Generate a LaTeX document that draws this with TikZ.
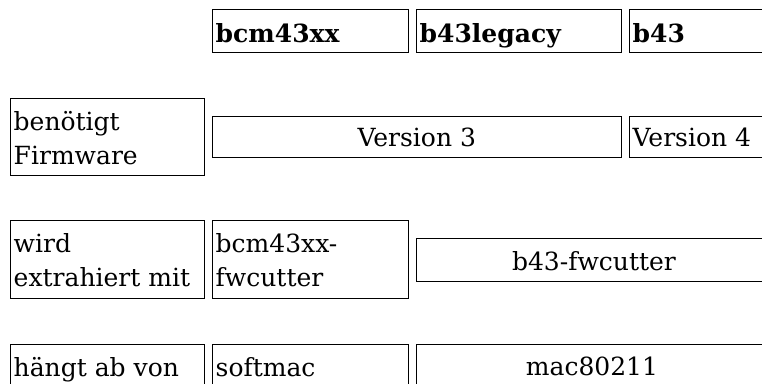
\documentclass[tikz,border=0pt]{standalone}
\usepackage{fontspec}
\setmainfont{DejaVu Serif}
\begin{document}
\begin{tikzpicture}[x=1pt,y=-1pt,
  cell/.style={draw=black, line width=1pt, rectangle, inner sep=0pt, anchor=north west},
  txt/.style={inner sep=0pt, anchor=base west, font=\fontsize{25}{34.3}\selectfont, align=left},
  ctxt/.style={inner sep=0pt, anchor=base, font=\fontsize{25}{34.3}\selectfont},
  htxt/.style={inner sep=0pt, anchor=base west, font=\fontsize{25}{34.3}\selectfont\bfseries}]
\useasboundingbox (0,0) rectangle (762,383);
\clip (0,0) rectangle (762,383);
% header row
\node[cell, minimum width=196pt, minimum height=43pt] (h1) at (212.3,9.3) {};
\node[cell, minimum width=205pt, minimum height=43pt] (h2) at (416.3,9.3) {};
\node[cell, minimum width=180pt, minimum height=43pt] (h3) at (629.3,9.3) {};
\node[htxt] (h1t) at (215.5,42) {bcm43xx};
\node[htxt] (h2t) at (419.5,42) {b43legacy};
\node[htxt] (h3t) at (632.5,42) {b43};
% firmware row
\node[cell, minimum width=194pt, minimum height=77.6pt] (l1) at (10.3,97.7) {};
\node[cell, minimum width=409pt, minimum height=41.3pt] (v3) at (212.3,115.7) {};
\node[cell, minimum width=180pt, minimum height=41.3pt] (v4) at (629.3,115.7) {};
\node[txt] (l1t) at (13.5,164.3) {benötigt\\Firmware};
\node[ctxt] (v3t) at (416.8,146.7) {Version 3};
\node[txt] (v4t) at (632.5,146.7) {Version 4};
% cutter row
\node[cell, minimum width=194pt, minimum height=77.7pt] (l2) at (10.3,220.3) {};
\node[cell, minimum width=196pt, minimum height=77.7pt] (f1) at (212.3,220.3) {};
\node[cell, minimum width=356pt, minimum height=42.7pt] (f2) at (416.3,238.3) {};
\node[txt] (l2t) at (13.5,286.7) {wird\\extrahiert mit};
\node[txt] (f1t) at (215.5,286.7) {bcm43xx-\\fwcutter};
\node[ctxt] (f2t) at (594,270) {b43-fwcutter};
% depends row
\node[cell, minimum width=194pt, minimum height=60pt] (l3) at (10.3,344) {};
\node[cell, minimum width=196pt, minimum height=60pt] (s1) at (212.3,344) {};
\node[cell, minimum width=351pt, minimum height=60pt] (s2) at (416.3,344) {};
\node[txt] (l3t) at (13.5,376.5) {hängt ab von};
\node[txt] (s1t) at (215.5,376) {softmac};
\node[ctxt] (s2t) at (592,375.5) {mac80211};
\end{tikzpicture}
\end{document}
